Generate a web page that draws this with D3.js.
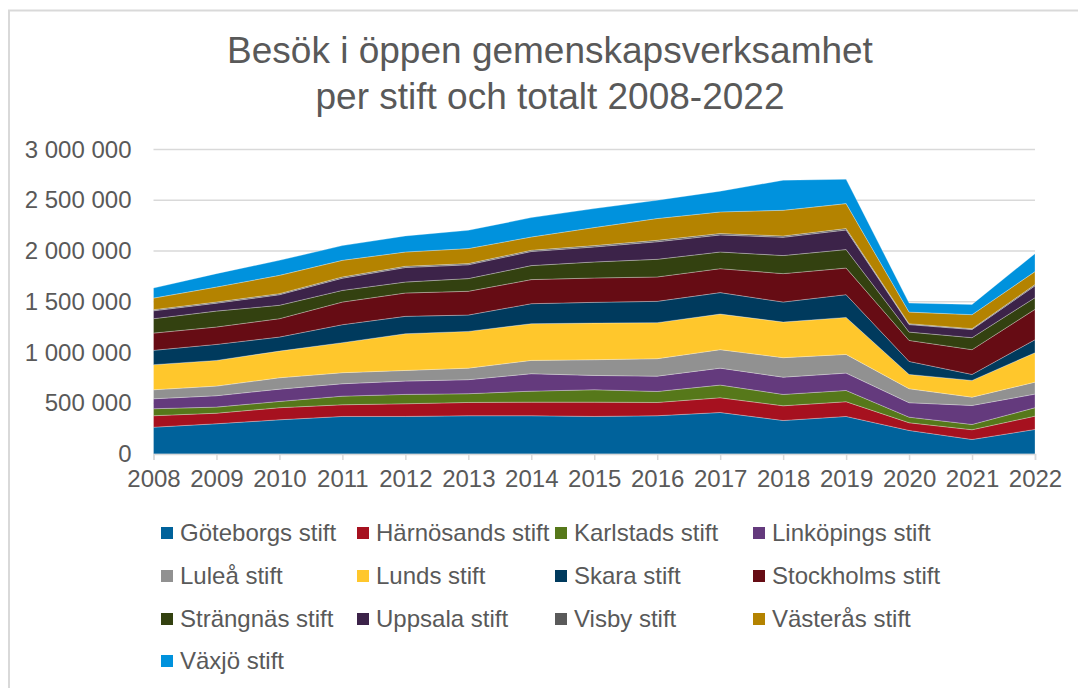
<!DOCTYPE html>
<html>
<head>
<meta charset="utf-8">
<script src="https://cdn.jsdelivr.net/npm/d3@7"></script>
<style>
  body { margin: 0; background: #fff; }
  text { font-family: "Liberation Sans", Arial, sans-serif; fill: #595959; }
</style>
</head>
<body>
<script>
// Data (visits per diocese)
var years = [2008, 2009, 2010, 2011, 2012, 2013, 2014, 2015, 2016, 2017, 2018, 2019, 2020, 2021, 2022];

var goteborg  = [264000, 298000, 337000, 370000, 370000, 377000, 377000, 370000, 377000, 409000, 330000, 370000, 232000, 143000, 242000];
var harnosand = [113000, 104000, 119000, 115000, 125000, 131000, 134000, 141000, 131000, 145000, 145000, 145000, 76000, 96000, 131000];
var karlstad  = [69000, 60000, 62000, 85000, 92000, 86000, 108000, 122000, 108000, 125000, 112000, 111000, 55000, 52000, 83000];
var linkoping = [98000, 112000, 121000, 122000, 131000, 138000, 172000, 141000, 151000, 167000, 170000, 171000, 142000, 187000, 134000];
var lulea     = [89000, 95000, 112000, 109000, 105000, 114000, 131000, 155000, 172000, 182000, 192000, 184000, 138000, 82000, 118000];
var lund      = [247000, 253000, 263000, 296000, 362000, 362000, 362000, 361000, 355000, 351000, 351000, 365000, 141000, 165000, 290000];
var skara     = [141000, 158000, 138000, 177000, 171000, 161000, 197000, 204000, 210000, 211000, 197000, 224000, 128000, 59000, 128000];
var stockholm = [170000, 171000, 181000, 223000, 230000, 234000, 237000, 240000, 240000, 236000, 280000, 262000, 207000, 244000, 299000];
var strangnas = [142000, 157000, 132000, 115000, 108000, 125000, 138000, 158000, 174000, 164000, 178000, 182000, 82000, 118000, 115000];
var uppsala   = [78000, 78000, 104000, 120000, 143000, 136000, 139000, 148000, 173000, 168000, 180000, 193000, 74000, 80000, 117000];
var visby     = [11000, 11000, 11000, 12000, 12000, 12000, 12000, 13000, 14000, 14000, 13000, 14000, 9000, 9000, 12000];
var vasteras  = [114000, 148000, 180000, 164000, 141000, 148000, 131000, 178000, 215000, 213000, 253000, 246000, 114000, 138000, 128000];
var vaxjo     = [99000, 132000, 148000, 145000, 158000, 180000, 191000, 187000, 180000, 204000, 296000, 240000, 89000, 101000, 177000];

var seriesNames = ["Göteborgs stift", "Härnösands stift", "Karlstads stift", "Linköpings stift",
  "Luleå stift", "Lunds stift", "Skara stift", "Stockholms stift",
  "Strängnäs stift", "Uppsala stift", "Visby stift", "Västerås stift", "Växjö stift"];
var seriesValues = [goteborg, harnosand, karlstad, linkoping, lulea, lund, skara,
  stockholm, strangnas, uppsala, visby, vasteras, vaxjo];
var colors = ["#00629b", "#a6111f", "#56781a", "#643a7d", "#919191", "#ffc72c", "#003a5d",
  "#660c14", "#334110", "#3c2349", "#5a5a5a", "#b48300", "#0092dd"];
var yTicks = [0, 500000, 1000000, 1500000, 2000000, 2500000, 3000000];

// Build a table for d3.stack
var table = years.map(function(y, i) {
  var row = { year: y };
  seriesNames.forEach(function(n, k) { row[n] = seriesValues[k][i]; });
  return row;
});

var svgWidth = 1078, svgHeight = 688;
var margin = { top: 149.5, left: 153.5, right: 43, bottom: 234 };
var width = svgWidth - margin.left - margin.right;
var height = svgHeight - margin.top - margin.bottom;

var svg = d3.select("body").append("svg")
  .attr("width", svgWidth)
  .attr("height", svgHeight);

// Chart frame (top and left edges only visible)
svg.append("line").attr("x1", 8).attr("x2", svgWidth).attr("y1", 10.5).attr("y2", 10.5)
  .attr("stroke", "#d9d9d9").attr("stroke-width", 2);
svg.append("line").attr("x1", 9).attr("x2", 9).attr("y1", 10).attr("y2", svgHeight)
  .attr("stroke", "#d9d9d9").attr("stroke-width", 2);

// Title
var title = svg.append("text")
  .attr("text-anchor", "middle")
  .attr("font-size", 37);
title.append("tspan").attr("x", 550).attr("y", 63).text("Besök i öppen gemenskapsverksamhet");
title.append("tspan").attr("x", 550).attr("y", 109).text("per stift och totalt 2008-2022");

var chartGroup = svg.append("g")
  .attr("transform", `translate(${margin.left}, ${margin.top})`);

var xScale = d3.scaleLinear().domain([2008, 2022]).range([0, width]);
var yScale = d3.scaleLinear().domain([0, 3000000]).range([height, 0]);

// Gridlines
chartGroup.append("g")
  .selectAll("line")
  .data(yTicks.slice(1))
  .enter().append("line")
  .attr("x1", 0).attr("x2", width)
  .attr("y1", d => yScale(d)).attr("y2", d => yScale(d))
  .attr("stroke", "#d9d9d9").attr("stroke-width", 1.5);

// Stacked areas
var stack = d3.stack().keys(seriesNames);
var layers = stack(table);

var area = d3.area()
  .x(d => xScale(d.data.year))
  .y0(d => yScale(d[0]))
  .y1(d => yScale(d[1]));

chartGroup.selectAll(".layer")
  .data(layers)
  .enter().append("path")
  .attr("class", "layer")
  .attr("d", area)
  .attr("fill", (d, i) => colors[i])
  .attr("stroke", "rgba(255,255,255,0.35)")
  .attr("stroke-width", 0.8);

// X axis
var fmt = v => d3.format(",")(v).replace(/,/g, " ");
var xAxis = d3.axisBottom(xScale)
  .tickValues(years)
  .tickFormat(d3.format("d"))
  .tickSize(6)
  .tickPadding(10);

var xg = chartGroup.append("g")
  .attr("class", "x-axis")
  .attr("transform", `translate(0, ${height})`)
  .call(xAxis);
xg.select(".domain").attr("stroke", "#d9d9d9").attr("stroke-width", 1.5);
xg.selectAll(".tick line").attr("stroke", "#d9d9d9").attr("stroke-width", 1.5);
xg.selectAll(".tick text").attr("font-size", 24).attr("fill", "#595959")
  .attr("font-family", "Liberation Sans, Arial, sans-serif");

// Y axis
var yAxis = d3.axisLeft(yScale)
  .tickValues(yTicks)
  .tickFormat(fmt)
  .tickSize(0)
  .tickPadding(22);
var yg = chartGroup.append("g")
  .attr("class", "y-axis")
  .call(yAxis);
yg.select(".domain").remove();
yg.selectAll(".tick text").attr("font-size", 24).attr("fill", "#595959")
  .attr("font-family", "Liberation Sans, Arial, sans-serif");

// Legend, 4 columns
var colX = [161, 357, 555, 753];
var rowY = [533, 576, 619, 661];
var legend = svg.append("g").selectAll("g")
  .data(seriesNames)
  .enter().append("g")
  .attr("transform", (d, i) => `translate(${colX[i % 4]}, ${rowY[Math.floor(i / 4)]})`);
legend.append("rect")
  .attr("x", 0).attr("y", -6).attr("width", 12).attr("height", 12)
  .attr("fill", (d, i) => colors[i]);
legend.append("text")
  .attr("x", 19).attr("dy", "0.35em")
  .attr("font-size", 24)
  .text(d => d);
</script>
</body>
</html>
